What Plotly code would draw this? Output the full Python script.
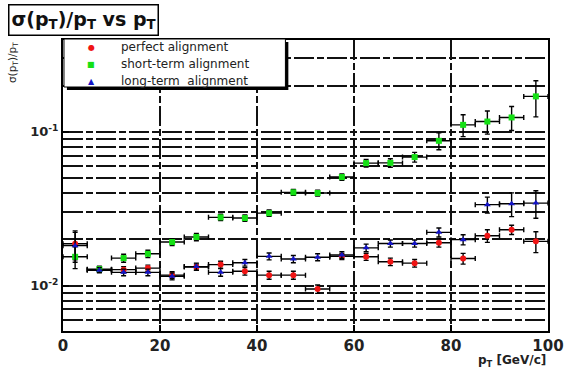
import plotly.graph_objects as go

# pT bins (5 GeV/c wide) and relative pT resolution for three alignment scenarios
pt_centers = [2.5, 7.5, 12.5, 17.5, 22.5, 27.5, 32.5, 37.5, 42.5, 47.5,
              52.5, 57.5, 62.5, 67.5, 72.5, 77.5, 82.5, 87.5, 92.5, 97.5]
bin_half_width = [2.5] * 20

perfect = [0.0187, 0.0127, 0.0127, 0.0130, 0.0117, 0.0132, 0.0137, 0.0124, 0.0117, 0.0117,
           0.0095, 0.0155, 0.0154, 0.0143, 0.0140, 0.0190, 0.0150, 0.0211, 0.0231, 0.0194]
perfect_err = [0.0040, 0.0005, 0.0006, 0.0006, 0.0006, 0.0006, 0.0007, 0.0007, 0.0007, 0.0007,
               0.0006, 0.0007, 0.0008, 0.0008, 0.0008, 0.0012, 0.0012, 0.0020, 0.0016, 0.0030]

short_term = [0.0154, 0.0128, 0.0151, 0.0161, 0.0192, 0.0207, 0.0278, 0.0275, 0.0296, 0.0404,
              0.0400, 0.0508, 0.0626, 0.0628, 0.0685, 0.0874, 0.111, 0.1166, 0.124, 0.170]
short_term_err = [0.0025, 0.0006, 0.0009, 0.0009, 0.0010, 0.0011, 0.0013, 0.0013, 0.0014, 0.0018,
                  0.0018, 0.0024, 0.0035, 0.0040, 0.0050, 0.011, 0.018, 0.020, 0.022, 0.045]

long_term = [0.0182, 0.0126, 0.0122, 0.0122, 0.0115, 0.0133, 0.0122, 0.0141, 0.0155, 0.0149,
             0.0153, 0.0158, 0.0176, 0.0188, 0.0188, 0.0222, 0.0199, 0.0336, 0.0341, 0.0344]
long_term_err = [0.0040, 0.0005, 0.0006, 0.0006, 0.0006, 0.0007, 0.0007, 0.0007, 0.0008, 0.0008,
                 0.0008, 0.0008, 0.0010, 0.0010, 0.0010, 0.0015, 0.0015, 0.0040, 0.0060, 0.0070]

series_names = ["perfect alignment", "short-term alignment", "long-term\u00a0 alignment"]
series_colors = ["#f01414", "#14e014", "#1414c8"]
series_symbols = ["circle", "square", "triangle-up"]
legend_glyphs = ["\u25cf", "\u25a0", "\u25b2"]

x_tick_vals = [0, 20, 40, 60, 80, 100]
y_tick_vals = [0.01, 0.1]
y_tick_text = ["10<sup>-2</sup>", "10<sup>-1</sup>"]
y_minor_vals = [0.006, 0.007, 0.008, 0.009,
                0.02, 0.03, 0.04, 0.05, 0.06, 0.07, 0.08, 0.09,
                0.2, 0.3]

W, H = 576, 374
ML, MR, MT, MB = 63, 18, 40, 43
PW, PH = W - ML - MR, H - MT - MB


def px(x):
    return (x - ML) / PW


def py(y):
    return (H - MB - y) / PH


GRID_DASH = "20px,3px,7px,3px"
GRID_COLOR = "#111111"

fig = go.Figure()

for name, vals, errs, color, symbol in zip(
        series_names,
        [perfect, short_term, long_term],
        [perfect_err, short_term_err, long_term_err],
        series_colors, series_symbols):
    fig.add_trace(go.Scatter(
        x=pt_centers, y=vals, name=name, mode="markers",
        marker=dict(color=color, symbol=symbol, size=6, line=dict(width=0)),
        error_y=dict(type="data", array=errs, visible=True,
                     color="#000000", thickness=1.4, width=2.5),
        error_x=dict(type="data", array=bin_half_width, visible=True,
                     color="#000000", thickness=1.4, width=2.5),
        showlegend=False,
    ))

fig.update_xaxes(
    range=[0, 100], tickvals=x_tick_vals,
    ticks="inside", ticklen=6, tickwidth=1.5, tickcolor="#000",
    showline=True, linecolor="#000", linewidth=2, mirror=True,
    showgrid=True, gridcolor=GRID_COLOR, gridwidth=1.5, griddash=GRID_DASH,
    zeroline=False,
    tickfont=dict(family="DejaVu Sans", size=15, color="#222", weight="bold"),
)

fig.update_yaxes(
    type="log", range=[-2.295, -0.403],
    tickvals=y_tick_vals, ticktext=y_tick_text,
    ticks="inside", ticklen=6, tickwidth=1.5, tickcolor="#000",
    showline=True, linecolor="#000", linewidth=2, mirror=True,
    showgrid=True, gridcolor=GRID_COLOR, gridwidth=1.5, griddash=GRID_DASH,
    minor=dict(tickvals=y_minor_vals, showgrid=True, gridcolor=GRID_COLOR,
               gridwidth=1.5, griddash=GRID_DASH, ticks=""),
    zeroline=False,
    tickfont=dict(family="DejaVu Sans", size=13, color="#222", weight="bold"),
)

shapes = [
    # legend shadow and box
    dict(type="rect", xref="paper", yref="paper", layer="above",
         x0=px(67), x1=px(293), y0=py(42), y1=py(90),
         fillcolor="#000", line=dict(width=0)),
    dict(type="rect", xref="paper", yref="paper", layer="above",
         x0=px(64), x1=px(290), y0=py(39), y1=py(87),
         fillcolor="#ffffff", line=dict(color="#000", width=1)),
]

annotations = [
    # title box
    dict(text="<b>σ(p<sub>T</sub>)/p<sub>T</sub> vs p<sub>T</sub></b>",
         xref="paper", yref="paper", x=px(7), y=py(4),
         xanchor="left", yanchor="top", showarrow=False, align="left",
         font=dict(family="DejaVu Sans", size=19, color="#111"),
         bgcolor="#ffffff", bordercolor="#000", borderwidth=1.5, borderpad=2),
    # y-axis title
    dict(text="σ(p<sub>T</sub>)/p<sub>T</sub>",
         xref="paper", yref="paper", x=px(12), y=py(63),
         xanchor="center", yanchor="middle", textangle=-90, showarrow=False,
         font=dict(family="DejaVu Sans", size=10.5, color="#222")),
    # x-axis title
    dict(text="<b>p<sub>T</sub> [GeV/c]</b>",
         xref="paper", yref="paper", x=px(558), y=py(361),
         xanchor="right", yanchor="middle", showarrow=False,
         font=dict(family="DejaVu Sans", size=12, color="#222")),
]

legend_rows = [47, 64, 81]
for name, color, glyph, row in zip(series_names, series_colors, legend_glyphs, legend_rows):
    annotations.append(dict(
        text=glyph, xref="paper", yref="paper", x=px(92), y=py(row),
        xanchor="center", yanchor="middle", showarrow=False,
        font=dict(family="DejaVu Sans", size=8, color=color)))
    annotations.append(dict(
        text=name, xref="paper", yref="paper", x=px(120), y=py(row),
        xanchor="left", yanchor="middle", showarrow=False,
        font=dict(family="DejaVu Sans", size=12, color="#222")))

fig.update_layout(
    width=W, height=H,
    margin=dict(l=ML, r=MR, t=MT, b=MB),
    paper_bgcolor="#ffffff", plot_bgcolor="#ffffff",
    shapes=shapes, annotations=annotations,
    showlegend=False,
)

fig.write_html("out.html")
